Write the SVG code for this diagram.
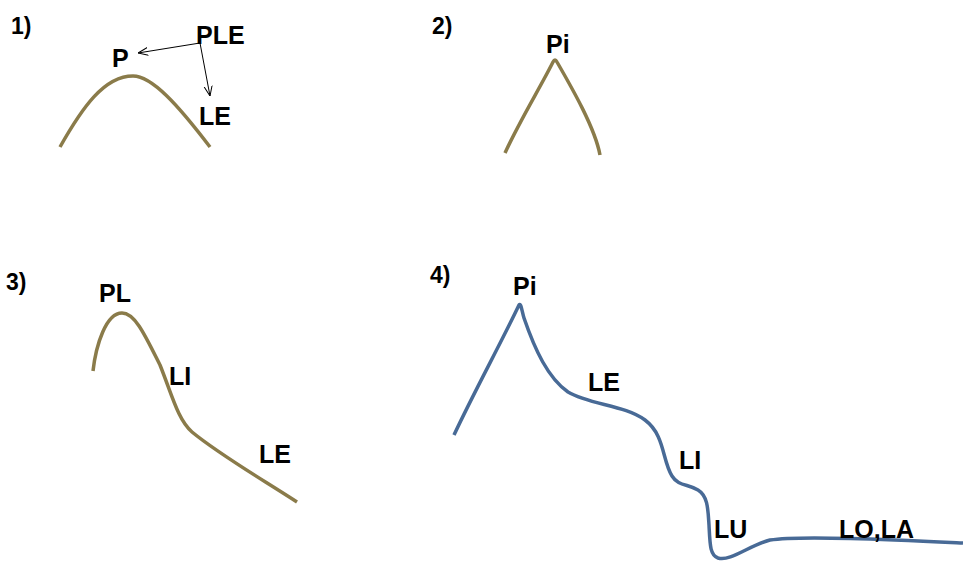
<svg xmlns="http://www.w3.org/2000/svg" width="963" height="561" viewBox="0 0 963 561">
<style>
.num{font-family:"Liberation Sans",Arial,sans-serif;font-weight:bold;font-size:23px;fill:#000}
.lbl{font-family:"Liberation Sans",Arial,sans-serif;font-weight:bold;font-size:25px;fill:#000}
.olive{fill:none;stroke:#8a7b4a;stroke-width:3.5;stroke-linecap:butt;stroke-linejoin:round}
.blue{fill:none;stroke:#486a96;stroke-width:3.5;stroke-linecap:butt;stroke-linejoin:round}
.arr{fill:none;stroke:#000;stroke-width:1;marker-end:url(#open)}
</style>
<defs>
<marker id="open" viewBox="0 0 10 10" refX="10" refY="5" markerWidth="10" markerHeight="10" markerUnits="userSpaceOnUse" orient="auto">
<polyline points="0,1 10,5 0,9" fill="none" stroke="#000" stroke-width="1"/>
</marker>
</defs>
<rect width="963" height="561" fill="#fff"/>
<g id="panel1">
<text class="num" x="11" y="34">1)</text>
<path class="olive" d="M60,147 C82,108 104,76 133,76 C152,76 178,105 210,147"/>
<text class="lbl" x="196" y="44">PLE</text>
<text class="lbl" x="112" y="67">P</text>
<text class="lbl" x="199" y="125">LE</text>
</g>
<g id="panel2">
<text class="num" x="432" y="34">2)</text>
<path class="olive" d="M505,153 C520,120 540,88 553,62 Q555,58 557,62 C572,88 595,128 600,155"/>
<text class="lbl" x="546" y="53">Pi</text>
</g>
<g id="panel3">
<text class="num" x="6" y="290">3)</text>
<path class="olive" d="M93,371 C96,345 106,313 122,313 C135,313 145,335 160,365 C172,395 178,420 192,432 C220,455 260,478 297,502"/>
<text class="lbl" x="99" y="302">PL</text>
<text class="lbl" x="169" y="385">LI</text>
<text class="lbl" x="259" y="463">LE</text>
</g>
<g id="panel4">
<text class="num" x="430" y="283">4)</text>
<path class="blue" d="M454,435 C475,390 500,345 519,305 C521,302 522,312 524,318 C535,350 548,378 568,392 C590,405 625,405 645,420 C665,435 662,460 672,476 C678,486 688,484 698,490 C708,496 708,510 709,525 C710,545 710,555 718,558 C730,562 750,545 770,540 C800,535 900,540 963,543"/>
<text class="lbl" x="513" y="295">Pi</text>
<text class="lbl" x="588" y="391">LE</text>
<text class="lbl" x="679" y="469">LI</text>
<text class="lbl" x="714" y="538">LU</text>
<text class="lbl" x="839" y="538">LO,LA</text>
</g>
<g id="connectors">
<line class="arr" x1="200" y1="43" x2="138" y2="53"/>
<line class="arr" x1="200" y1="43" x2="210" y2="96"/>
</g>
</svg>
